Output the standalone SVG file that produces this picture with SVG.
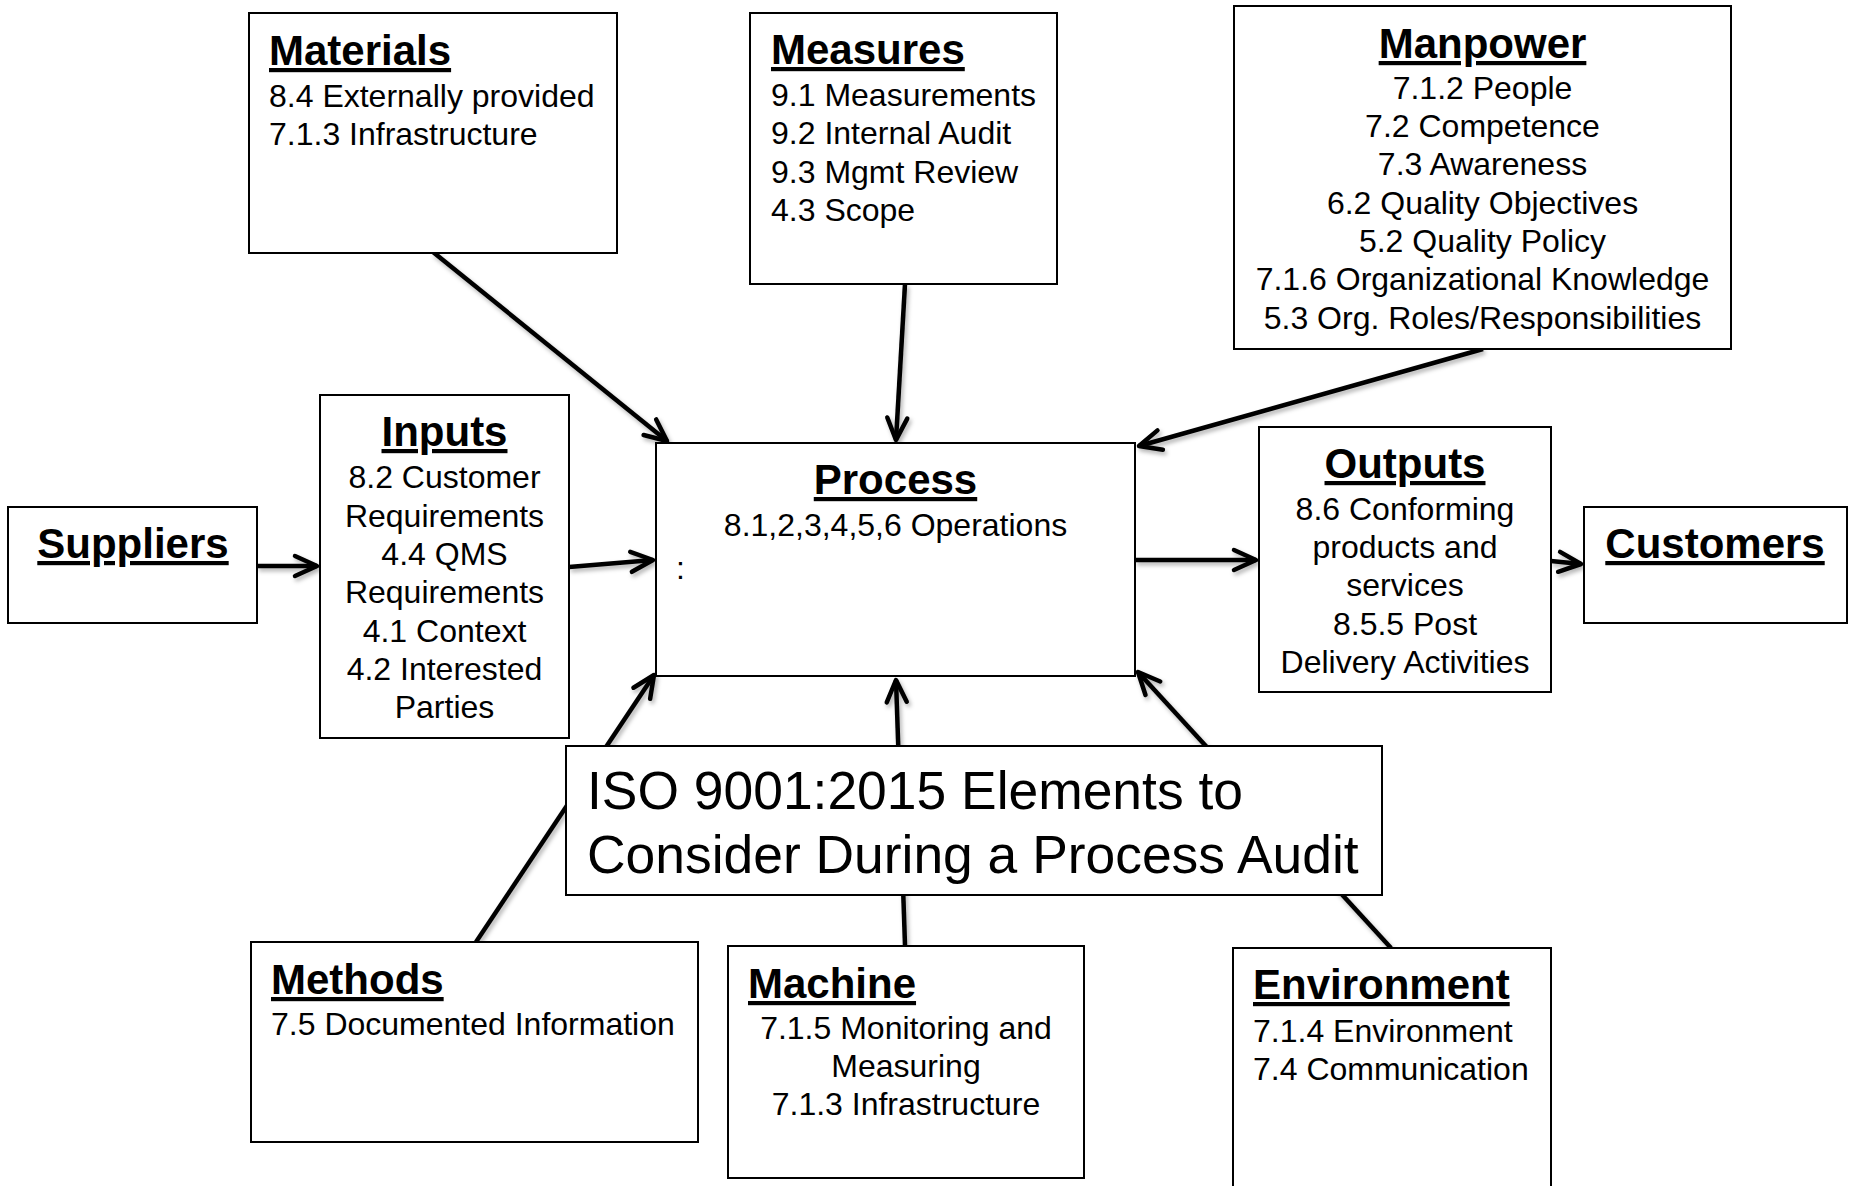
<svg xmlns="http://www.w3.org/2000/svg" width="1849" height="1186" viewBox="0 0 1849 1186">
  <style>
    text { font-family: "Liberation Sans", Arial, Helvetica, sans-serif; fill: #000; }
    .box { fill: #fff; stroke: #000; stroke-width: 2; }
    .title { font-size: 42px; font-weight: bold; text-decoration: underline; }
    .body { font-size: 32px; }
    .big { font-size: 53.4px; }
    .mid { text-anchor: middle; }
    .conn { stroke: #000; stroke-width: 4.5; fill: none; marker-end: url(#arrow); }
  </style>
  <defs>
    <marker id="arrow" markerUnits="userSpaceOnUse" markerWidth="40" markerHeight="40" viewBox="-30 -20 40 40" refX="0" refY="0" orient="auto" overflow="visible">
      <path d="M-22,-10 L0,0 L-22,10" fill="none" stroke="#000" stroke-width="4.5" stroke-linecap="round" stroke-linejoin="round"/>
    </marker>
    <filter id="shadow" filterUnits="userSpaceOnUse" x="0" y="0" width="1849" height="1186">
      <feDropShadow dx="2" dy="3" stdDeviation="2" flood-color="#000" flood-opacity="0.3"/>
    </filter>
  </defs>
  <rect width="1849" height="1186" fill="#fff"/>

  <g id="connectors" filter="url(#shadow)">
    <line class="conn" x1="433" y1="252" x2="667" y2="441"/>
    <line class="conn" x1="905" y1="284" x2="896" y2="440"/>
    <line class="conn" x1="1483" y1="349" x2="1139" y2="446"/>
    <line class="conn" x1="257" y1="566" x2="317" y2="566"/>
    <line class="conn" x1="569" y1="567" x2="653" y2="560"/>
    <line class="conn" x1="1135" y1="560" x2="1256" y2="560"/>
    <line class="conn" x1="1551" y1="561" x2="1581" y2="564"/>
    <line class="conn" x1="476" y1="942" x2="654" y2="675"/>
    <line class="conn" x1="905" y1="945" x2="896" y2="680"/>
    <line class="conn" x1="1391" y1="948" x2="1138" y2="672"/>
  </g>

  <g id="materials">
    <rect class="box" x="249" y="13" width="368" height="240"/>
    <text class="title" x="269" y="65">Materials</text>
    <text class="body" x="269" y="107">8.4 Externally provided</text>
    <text class="body" x="269" y="145">7.1.3 Infrastructure</text>
  </g>

  <g id="measures">
    <rect class="box" x="750" y="13" width="307" height="271"/>
    <text class="title" x="771" y="64">Measures</text>
    <text class="body" x="771" y="105.5">9.1 Measurements</text>
    <text class="body" x="771" y="144">9.2 Internal Audit</text>
    <text class="body" x="771" y="182.5">9.3 Mgmt Review</text>
    <text class="body" x="771" y="220.5">4.3 Scope</text>
  </g>

  <g id="manpower">
    <rect class="box" x="1234" y="6" width="497" height="343"/>
    <text class="title mid" x="1482.5" y="58">Manpower</text>
    <text class="body mid" x="1482.5" y="98.5">7.1.2 People</text>
    <text class="body mid" x="1482.5" y="137">7.2 Competence</text>
    <text class="body mid" x="1482.5" y="175">7.3 Awareness</text>
    <text class="body mid" x="1482.5" y="213.5">6.2 Quality Objectives</text>
    <text class="body mid" x="1482.5" y="251.5">5.2 Quality Policy</text>
    <text class="body mid" x="1482.5" y="290">7.1.6 Organizational Knowledge</text>
    <text class="body mid" x="1482.5" y="328.5">5.3 Org. Roles/Responsibilities</text>
  </g>

  <g id="suppliers">
    <rect class="box" x="8" y="507" width="249" height="116"/>
    <text class="title mid" x="133" y="558">Suppliers</text>
  </g>

  <g id="inputs">
    <rect class="box" x="320" y="395" width="249" height="343"/>
    <text class="title mid" x="444.5" y="446">Inputs</text>
    <text class="body mid" x="444.5" y="488">8.2 Customer</text>
    <text class="body mid" x="444.5" y="526.5">Requirements</text>
    <text class="body mid" x="444.5" y="565">4.4 QMS</text>
    <text class="body mid" x="444.5" y="603">Requirements</text>
    <text class="body mid" x="444.5" y="641.5">4.1 Context</text>
    <text class="body mid" x="444.5" y="680">4.2 Interested</text>
    <text class="body mid" x="444.5" y="718">Parties</text>
  </g>

  <g id="process">
    <rect class="box" x="656" y="443" width="479" height="233"/>
    <text class="title mid" x="895.5" y="494">Process</text>
    <text class="body mid" x="895.5" y="536">8.1,2,3,4,5,6 Operations</text>
    <text class="body" x="676" y="579">:</text>
  </g>

  <g id="outputs">
    <rect class="box" x="1259" y="427" width="292" height="265"/>
    <text class="title mid" x="1405" y="478">Outputs</text>
    <text class="body mid" x="1405" y="519.5">8.6 Conforming</text>
    <text class="body mid" x="1405" y="558">products and</text>
    <text class="body mid" x="1405" y="596">services</text>
    <text class="body mid" x="1405" y="634.5">8.5.5 Post</text>
    <text class="body mid" x="1405" y="673">Delivery Activities</text>
  </g>

  <g id="customers">
    <rect class="box" x="1584" y="507" width="263" height="116"/>
    <text class="title mid" x="1715" y="558">Customers</text>
  </g>

  <g id="iso-title">
    <rect class="box" x="566" y="746" width="816" height="149"/>
    <text class="big" x="587" y="809">ISO 9001:2015 Elements to</text>
    <text class="big" x="587" y="873">Consider During a Process Audit</text>
  </g>

  <g id="methods">
    <rect class="box" x="251" y="942" width="447" height="200"/>
    <text class="title" x="271" y="994">Methods</text>
    <text class="body" x="271" y="1034.5">7.5 Documented Information</text>
  </g>

  <g id="machine">
    <rect class="box" x="728" y="946" width="356" height="232"/>
    <text class="title" x="748" y="998">Machine</text>
    <text class="body mid" x="906" y="1038.5">7.1.5 Monitoring and</text>
    <text class="body mid" x="906" y="1077">Measuring</text>
    <text class="body mid" x="906" y="1115">7.1.3 Infrastructure</text>
  </g>

  <g id="environment">
    <rect class="box" x="1233" y="948" width="318" height="260"/>
    <text class="title" x="1253" y="999">Environment</text>
    <text class="body" x="1253" y="1041.5">7.1.4 Environment</text>
    <text class="body" x="1253" y="1079.5">7.4 Communication</text>
  </g>
</svg>
